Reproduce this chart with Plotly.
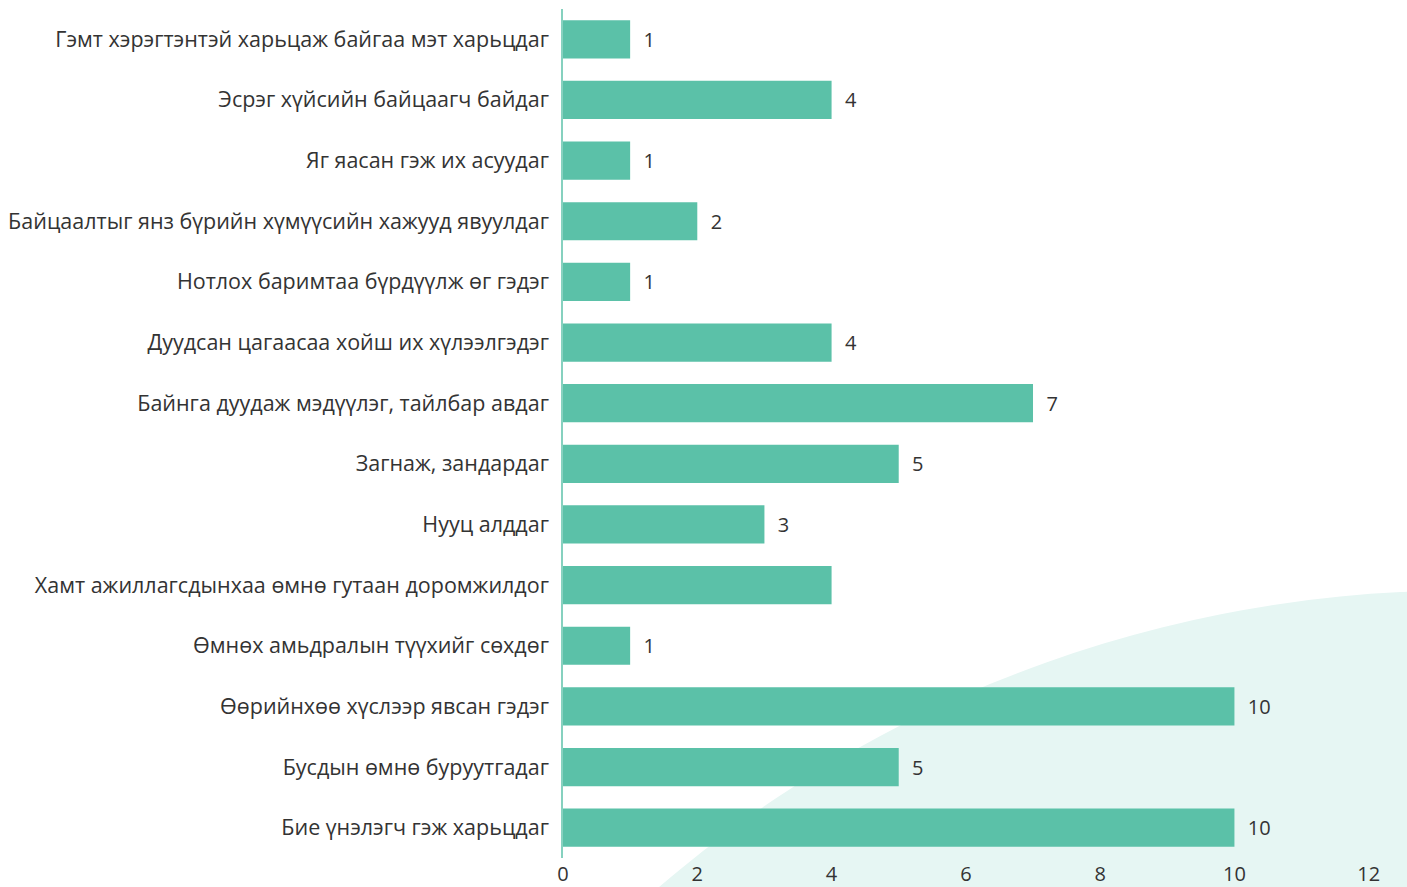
import plotly.graph_objects as go

categories = [
    "Гэмт хэрэгтэнтэй харьцаж байгаа мэт харьцдаг",
    "Эсрэг хүйсийн байцаагч байдаг",
    "Яг яасан гэж их асуудаг",
    "Байцаалтыг янз бүрийн хүмүүсийн хажууд явуулдаг",
    "Нотлох баримтаа бүрдүүлж өг гэдэг",
    "Дуудсан цагаасаа хойш их хүлээлгэдэг",
    "Байнга дуудаж мэдүүлэг, тайлбар авдаг",
    "Загнаж, зандардаг",
    "Нууц алддаг",
    "Хамт ажиллагсдынхаа өмнө гутаан доромжилдог",
    "Өмнөх амьдралын түүхийг сөхдөг",
    "Өөрийнхөө хүслээр явсан гэдэг",
    "Бусдын өмнө буруутгадаг",
    "Бие үнэлэгч гэж харьцдаг",
]
values = [1, 4, 1, 2, 1, 4, 7, 5, 3, 4, 1, 10, 5, 10]
value_labels = ["1", "4", "1", "2", "1", "4", "7", "5", "3", "", "1", "10", "5", "10"]
x_ticks = [0, 2, 4, 6, 8, 10, 12]

W, H = 1407, 887
left, right, top, bottom = 563, 1407, 9, 860
ml, mr, mt, mb = left, W - right, top, H - bottom
pw, ph = right - left, bottom - top

# background circle in page pixels -> paper coords
cx, cy, r = 1461, 1823, 1231
def px(x):
    return (x - left) / pw
def py(y):
    return (bottom - y) / ph

fig = go.Figure(go.Bar(
    y=categories,
    x=values,
    orientation="h",
    marker=dict(color="#5bc1a8", line=dict(width=0)),
    width=0.63,
    text=["  " + t if t else "" for t in value_labels],
    textposition="outside",
    textfont=dict(family="Open Sans", size=20, color="#333333"),
    cliponaxis=False,
    hoverinfo="skip",
))

fig.add_shape(
    type="circle", xref="paper", yref="paper",
    x0=px(cx - r), x1=px(cx + r), y0=py(cy + r), y1=py(cy - r),
    fillcolor="#e6f6f3", line=dict(width=0), layer="below",
)

fig.update_layout(
    width=W, height=H,
    margin=dict(l=ml, r=mr, t=mt, b=mb, pad=0),
    paper_bgcolor="white", plot_bgcolor="rgba(0,0,0,0)",
    showlegend=False,
    font=dict(family="Open Sans", color="#333333"),
)
fig.update_yaxes(
    autorange="reversed",
    categoryorder="array", categoryarray=categories,
    showgrid=False, zeroline=False,
    showline=True, linecolor="#86d1bf", linewidth=1.5,
    ticks="", ticklabelstandoff=8,
    tickfont=dict(family="Open Sans", size=21.5, color="#333333"),
)
fig.update_xaxes(
    range=[0, 12.57],
    tickvals=x_ticks, ticktext=[str(v) for v in x_ticks],
    showgrid=False, zeroline=False, showline=False,
    ticks="", ticklabelstandoff=2,
    tickfont=dict(family="Open Sans", size=20, color="#333333"),
)

fig.write_html(
    "out.html",
    config={"displayModeBar": False},
    post_script="document.body.style.margin='0';document.body.style.overflow='hidden';",
)
